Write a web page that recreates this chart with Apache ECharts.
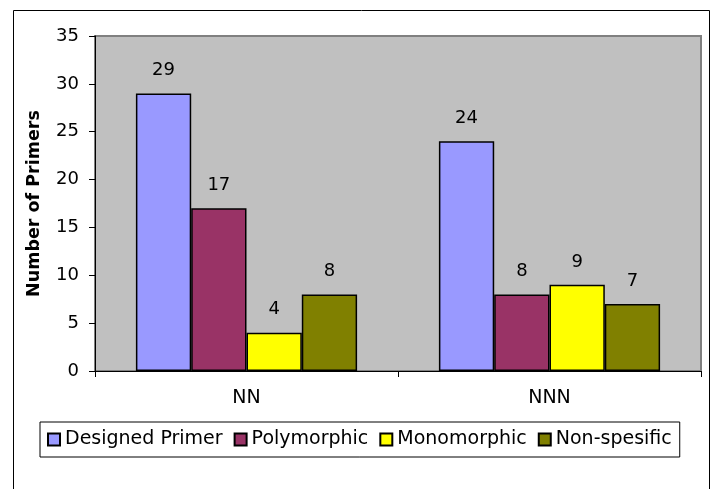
<!DOCTYPE html>
<html>
<head>
<meta charset="utf-8">
<script src="https://cdn.jsdelivr.net/npm/echarts@6/dist/echarts.min.js"></script>
<style>
  html, body { margin: 0; padding: 0; background: #fff; }
  #chart { width: 712px; height: 489px; }
</style>
</head>
<body>
<div id="chart"></div>
<script>
// Primer counts per repeat type
const categories = ['NN', 'NNN'];
const seriesNames = ['Designed Primer', 'Polymorphic', 'Monomorphic', 'Non-spesific'];
const designed = [29, 24];
const polymorphic = [17, 8];
const monomorphic = [4, 9];
const nonSpecific = [8, 7];
const seriesColors = ['#9999FF', '#993366', '#FFFF00', '#808000'];
const yTicks = { min: 0, max: 35, interval: 5 };

const FONT = '"DejaVu Sans", Arial, sans-serif';
const values = [designed, polymorphic, monomorphic, nonSpecific];

const chart = echarts.init(document.getElementById('chart'), null, { renderer: 'canvas' });

chart.setOption({
  animation: false,
  backgroundColor: '#ffffff',
  textStyle: { fontFamily: FONT },
  graphic: [{
    type: 'rect',
    shape: { x: 13.5, y: 10.5, width: 696, height: 500 },
    style: { fill: 'none', stroke: '#000', lineWidth: 1 },
    z: -1
  }],
  grid: {
    left: 95, top: 36, right: 11, bottom: 118,
    show: true,
    backgroundColor: '#C0C0C0',
    borderColor: '#808080',
    borderWidth: 2
  },
  legend: {
    data: seriesNames,
    left: 40,
    top: 422,
    orient: 'horizontal',
    icon: 'rect',
    itemWidth: 12,
    itemHeight: 12,
    itemGap: 11,
    padding: [8, 8, 8, 7],
    borderColor: '#000',
    borderWidth: 1,
    textStyle: { fontFamily: FONT, fontSize: 19, color: '#000' },
    itemStyle: { borderColor: '#000', borderWidth: 2 }
  },
  xAxis: {
    type: 'category',
    data: categories,
    axisLine: { lineStyle: { color: '#000', width: 1 } },
    axisTick: { show: true, length: 6, lineStyle: { color: '#000' } },
    axisLabel: { fontFamily: FONT, fontSize: 19, color: '#000', margin: 18 },
    splitLine: { show: false }
  },
  yAxis: {
    type: 'value',
    min: yTicks.min,
    max: yTicks.max,
    interval: yTicks.interval,
    name: 'Number of Primers',
    nameLocation: 'middle',
    nameGap: 52,
    nameTextStyle: { fontFamily: FONT, fontSize: 17.5, fontWeight: 'bold', color: '#000' },
    axisLine: { show: true, lineStyle: { color: '#000', width: 1 } },
    axisTick: { show: true, length: 6, lineStyle: { color: '#000' } },
    axisLabel: { fontFamily: FONT, fontSize: 18, color: '#000', margin: 16 },
    splitLine: { show: false }
  },
  series: seriesNames.map((name, i) => ({
    name: name,
    type: 'bar',
    data: values[i],
    barGap: '0%',
    barCategoryGap: '27%',
    itemStyle: { color: seriesColors[i], borderColor: '#000', borderWidth: 1.5 },
    label: {
      show: true,
      position: 'top',
      distance: 14,
      fontFamily: FONT,
      fontSize: 18,
      color: '#000'
    }
  }))
});
</script>
</body>
</html>
